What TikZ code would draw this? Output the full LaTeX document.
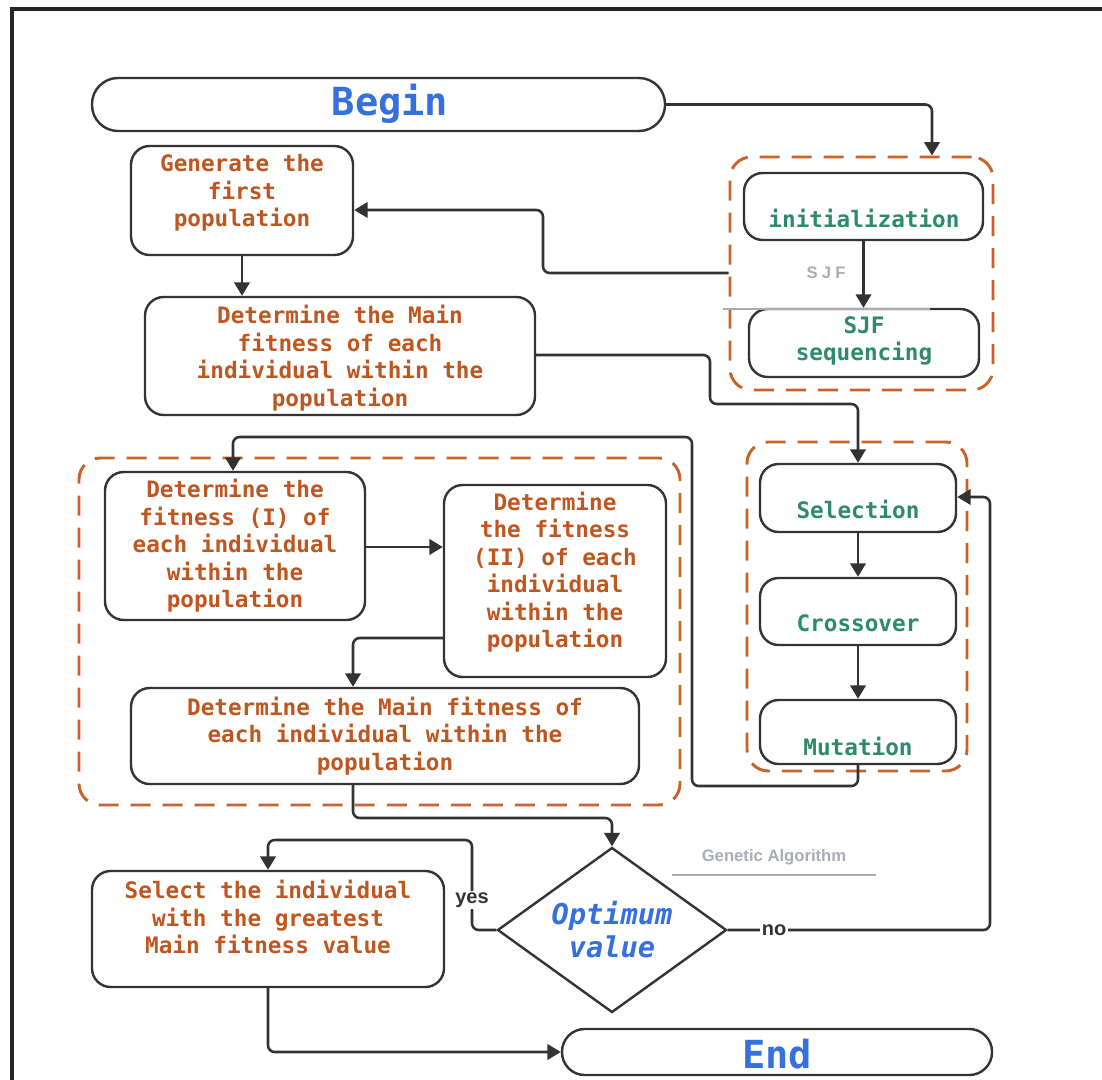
\documentclass[tikz,border=0pt]{standalone}
\usepackage{fontspec}
\setmainfont{Liberation Sans}
\newfontfamily\monof{DejaVu Sans Mono}
\newfontfamily\spacedf[LetterSpace=25]{Liberation Sans}
\usetikzlibrary{fit,shapes.geometric,arrows.meta}
\definecolor{orangeT}{HTML}{C0561F}
\definecolor{orangeD}{HTML}{C8622A}
\definecolor{greenT}{HTML}{2E8A6E}
\definecolor{blueT}{HTML}{3570DC}
\definecolor{lineC}{HTML}{333333}
\definecolor{grayT}{HTML}{A8ADB5}
\tikzset{
  box/.style={draw=lineC, line width=1.8pt, rounded corners=14pt, inner sep=0pt},
  pill/.style={draw=lineC, line width=1.8pt, inner sep=0pt},
  dbox/.style={draw=orangeD, line width=2.2pt, dash pattern=on 15pt off 9pt, rounded corners=16pt, inner sep=0pt},
  otext/.style={text=orangeT, font=\monof\bfseries\fontsize{17}{20.6}\selectfont, align=center, inner sep=0pt},
  gtext/.style={text=greenT, font=\monof\bfseries\fontsize{17}{20.6}\selectfont, align=center, inner sep=0pt},
  btext/.style={text=blueT, font=\monof\bfseries\fontsize{29}{32}\selectfont, inner sep=0pt},
  conn/.style={draw=lineC, line width=1.9pt, rounded corners=5pt, -{Triangle[length=10pt,width=11.5pt]}},
  graylbl/.style={text=grayT, inner sep=0pt},
  ynlbl/.style={text=lineC, font=\bfseries\fontsize{15}{18}\selectfont, fill=white, inner sep=1.5pt},
}
\begin{document}
\begin{tikzpicture}[x=0.75pt,y=-0.75pt]
\useasboundingbox (0,0) rectangle (1102,1080);
% outer frame
\draw[line width=2.4pt, color=black!85] (12,1082) -- (12,9) -- (1104,9);

% dashed groups
\node[dbox, fit={(730,157) (993,390)}] (d1) {};
\node[dbox, fit={(747,442) (967,771)}] (d2) {};
\node[dbox, fit={(79,458) (680,805)}] (d3) {};

% terminals
\node[pill, rounded corners=19.5pt, fit={(92,78) (665,131)}] (begin) {};
\node[btext] (beginT) at (390,104) {Begin};
\node[pill, rounded corners=17pt, fit={(562,1029) (992,1075)}] (end) {};
\node[btext] (endT) at (777,1054) {End};

% right column
\node[box, fit={(744,173) (983,240)}] (init) {};
\node[gtext] (initT) at (864,218) {initialization};
\node[box, fit={(749,309) (979,377)}] (sjf) {};
\node[gtext] (sjfT) at (864,341) {SJF\\sequencing};
\node[box, fit={(760,464) (956,532)}] (sel) {};
\node[gtext] (selT) at (858,509) {Selection};
\node[box, fit={(760,578) (956,645)}] (cross) {};
\node[gtext] (crossT) at (858,623) {Crossover};
\node[box, fit={(760,700) (956,764)}] (mut) {};
\node[gtext] (mutT) at (858,746) {Mutation};

% left column
\node[box, fit={(131,146) (353,255)}] (gen) {};
\node[otext] (genT) at (242,193) {Generate the\\first\\population};
\node[box, fit={(145,297) (535,415)}] (main1) {};
\node[otext] (main1T) at (340,358) {Determine the Main\\fitness of each\\individual within the\\population};
\node[box, fit={(105,472) (365,620)}] (fit1) {};
\node[otext] (fit1T) at (235,546) {Determine the\\fitness (I) of\\each individual\\within the\\population};
\node[box, fit={(444,485) (666,677)}] (fit2) {};
\node[otext] (fit2T) at (555,572) {Determine\\the fitness\\(II) of each\\individual\\within the\\population};
\node[box, fit={(131,688) (639,784)}] (main2) {};
\node[otext] (main2T) at (385,736) {Determine the Main fitness of\\each individual within the\\population};
\node[box, fit={(92,871) (444,987)}] (pick) {};
\node[otext] (pickT) at (268,917) {Select the individual\\with the greatest\\Main fitness value};

% decision
\node[draw=lineC, line width=1.8pt, diamond, inner sep=0pt, minimum width=229*0.75pt, minimum height=165*0.75pt] (dia) at (612,930) {};
\node[text=blueT, font=\monof\bfseries\itshape\fontsize{21.5}{24.75}\selectfont, align=center, inner sep=0pt] (diaT) at (612,930) {Optimum\\value};

% labels
\node[graylbl, font=\spacedf\bfseries\fontsize{12.5}{14}\selectfont] (sjfL) at (826,273) {SJF};
\draw[grayT, line width=0.8pt] (723,309) -- (930,309);
\node[graylbl, font=\bfseries\fontsize{12.5}{15}\selectfont] (gaL) at (774,857) {Genetic Algorithm};
\draw[grayT, line width=0.8pt] (672,875) -- (876,875);

% helper coordinates
\coordinate (x932) at (932,0);
\coordinate (y273) at (0,273);
\coordinate (y210) at (0,210);
\coordinate (y547) at (0,547);
\coordinate (y638) at (0,638);
\coordinate (y497) at (0,497);
\coordinate (x233) at (233,0);
\coordinate (x353) at (353,0);

% connectors
\draw[conn] (begin.east) -| (d1.north -| x932);
\draw[conn] (d1.west |- y273) -- (543,273) -- (543,210) -- (gen.east |- y210);
\draw[conn] (gen.south) -- (main1.north -| gen.south);
\draw[conn] (main1.east |- 0,355) -- (710,355) -- (710,404) -- (858,404) -- (sel.north);
\draw[conn] (init.south) -- (sjf.north -| init.south);
\draw[conn] (sel.south) -- (cross.north);
\draw[conn] (cross.south) -- (mut.north);
\draw[conn] (mut.south) -- (858,786) -- (692,786) -- (692,437) -- (233,437) -- (fit1.north -| x233);
\draw[conn] (fit1.east |- y547) -- (fit2.west |- y547);
\draw[conn] (fit2.west |- y638) -- (353,638) -- (main2.north -| x353);
\draw[conn] (main2.south -| x353) -- (353,818) -- (612,818) -- (dia.north);
\draw[conn] (dia.east) -- (990,930) -- (990,497) -- (sel.east |- y497);
\draw[conn] (dia.west) -- (472,930) -- (472,840) -- (268,840) -- (pick.north);
\draw[conn] (pick.south) -- (268,1052) -- (end.west |- 0,1052);

\node[ynlbl] (noL) at (774,930) {no};
\node[ynlbl] (yesL) at (472,900) {yes};
\end{tikzpicture}
\end{document}
